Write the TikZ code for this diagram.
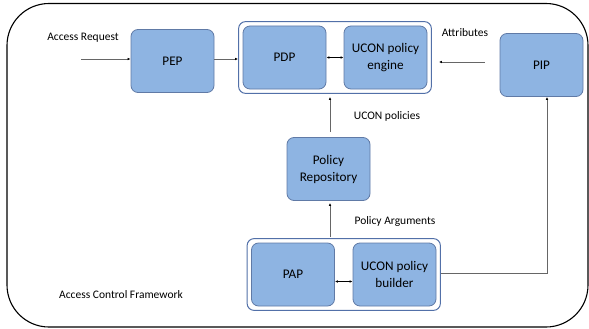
\documentclass[tikz,border=0pt]{standalone}
\usepackage{fontspec}
\setmainfont{Carlito}
\usetikzlibrary{arrows.meta,fit}

\definecolor{boxfill}{RGB}{142,180,226}
\definecolor{boxline}{RGB}{96,122,166}
\definecolor{grpline}{RGB}{82,112,168}

\begin{document}
\begin{tikzpicture}[x=1pt,y=-1pt,font=\fontsize{11.5}{13}\selectfont,
  blk/.style={draw=boxline, fill=boxfill, line width=0.8pt, rounded corners=7pt,
    minimum width=83pt, minimum height=63pt, align=center,
    font=\fontsize{13.2}{17}\selectfont},
  grp/.style={draw=grpline, line width=1pt, rounded corners=7pt, inner sep=4pt},
  arr/.style={draw=gray!80!black, line width=0.6pt, -{Latex[length=3pt,width=2.6pt,color=black]}},
  dbl/.style={line width=0.6pt, {Latex[length=3pt,width=2.6pt]}-{Latex[length=3pt,width=2.6pt]}}]

\useasboundingbox (0,0) rectangle (589,329);

% outer frame
\draw[line width=1.1pt, rounded corners=42pt] (7,3.5) rectangle (588,327);
\node (acf) at (121,295) {Access Control Framework};

% boxes
\node[blk] (PEP) at (172.5,61) {PEP};
\node[blk] (PDP) at (284.5,57.5) {PDP};
\node[blk] (engine) at (385.5,57.5) {UCON policy\\engine};
\node[blk] (PIP) at (541.5,65) {PIP};
\node[blk] (repo) at (328.5,169) {Policy\\Repository};
\node[blk] (PAP) at (293,274.5) {PAP};
\node[blk] (builder) at (394.5,274.5) {UCON policy\\builder};

\node[grp, fit=(PDP)(engine)] (pdpgrp) {};
\node[grp, fit=(PAP)(builder)] (papgrp) {};

% labels
\node (req) at (83,38) {Access Request};
\node (attr) at (465,33) {Attributes};
\node (pol) at (387,116) {UCON policies};
\node (args) at (395,221) {Policy Arguments};

% connectors
\coordinate (start) at (81,59);
\draw[arr] (start) -- (start -| PEP.west);
\draw[arr] (PEP.east |- start) -- (start -| pdpgrp.west);
\draw[dbl] (PDP) -- (engine);
\draw[arr, shorten <=15pt, shorten >=7pt] ([yshift=3pt]PIP.west) -- ([yshift=3pt]PIP.west -| pdpgrp.east);
\draw[arr, shorten <=5pt, shorten >=3pt] ([xshift=1.5pt]repo.north) -- ([xshift=1.5pt]repo.north |- pdpgrp.south);
\draw[arr, shorten <=1pt, shorten >=2pt] ([xshift=1.5pt]repo.south |- papgrp.north) -- ([xshift=1.5pt]repo.south);
\draw[dbl] ([yshift=-7pt]PAP.east) -- ([yshift=-7pt]builder.west);
\draw[arr] ([yshift=1pt]papgrp.east) -| ([xshift=5.5pt]PIP.south);

\end{tikzpicture}
\end{document}
